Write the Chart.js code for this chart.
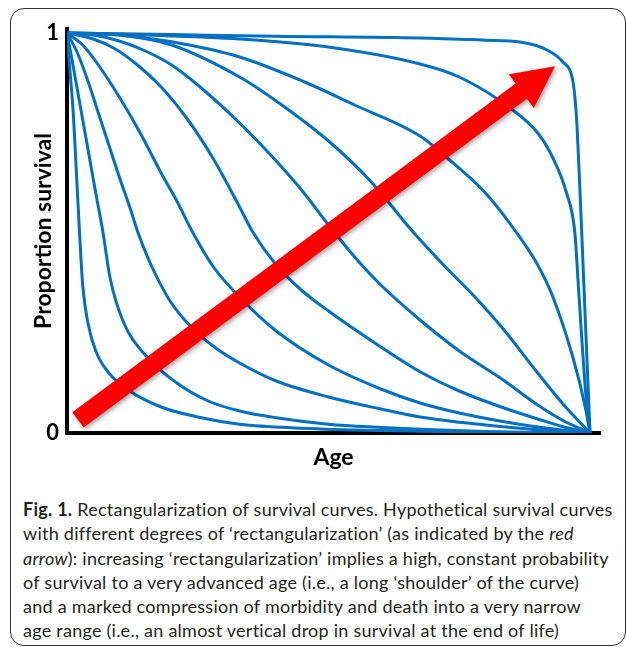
<!DOCTYPE html>
<html>
<head>
<meta charset="utf-8">
<script src="https://cdn.jsdelivr.net/npm/chart.js@4.4.1/dist/chart.umd.min.js"></script>
<style>
  body { margin: 0; background: #fff; }
  #frame { position: absolute; left: 10px; top: 8px; width: 614px; height: 636px;
           border: 1.5px solid #333; border-radius: 14px; }
  #wrap { position: absolute; left: 0; top: 0; width: 627px; height: 480px; }
  #caption { position: absolute; left: 23px; top: 497px; font-family: Lato, sans-serif;
             font-size: 18px; letter-spacing: 0.25px; line-height: 24.3px; color: #231f20; white-space: nowrap; }
</style>
</head>
<body>
<div id="frame"></div>
<div id="wrap"><canvas id="chart" width="627" height="480"></canvas></div>
<div id="caption">
  <div><b>Fig. 1.</b> Rectangularization of survival curves. Hypothetical survival curves</div>
  <div>with different degrees of ‘rectangularization’ (as indicated by the <i>red</i></div>
  <div><i>arrow</i>): increasing ‘rectangularization’ implies a high, constant probability</div>
  <div>of survival to a very advanced age (i.e., a long ‘shoulder’ of the curve)</div>
  <div>and a marked compression of morbidity and death into a very narrow</div>
  <div>age range (i.e., an almost vertical drop in survival at the end of life)</div>
</div>
<script>
// survival curves, [age %, proportion surviving], innermost to outermost
const curve1 = [[0,1],[0.6,0.9],[1.2,0.8],[1.8,0.65],[2.4,0.5],[3,0.37],[4,0.275],[5.5,0.205],[8,0.15],[12,0.105],[18,0.065],[25,0.04],[33,0.022],[45,0.012],[60,0.006],[80,0.002],[100,0]];
const curve2 = [[0,1],[1,0.93],[2.5,0.82],[4,0.71],[5.5,0.6],[6.9,0.5],[8.2,0.39],[10.7,0.28],[15.3,0.19],[21,0.125],[27,0.08],[33,0.055],[40,0.038],[50,0.022],[60,0.014],[70,0.008],[80,0.004],[90,0.0015],[100,0]];
const curve3 = [[0,1],[2,0.95],[4,0.88],[6,0.8],[8,0.72],[10,0.64],[12,0.565],[13.6,0.5],[15.9,0.425],[19.7,0.33],[24.1,0.26],[28.7,0.21],[33,0.175],[40,0.13],[50,0.09],[60,0.06],[67.5,0.04],[80,0.02],[90,0.008],[100,0]];
const curve4 = [[0,1],[3,0.97],[6,0.92],[10,0.84],[14,0.75],[18,0.65],[21,0.58],[24.1,0.5],[28,0.415],[33,0.34],[40,0.255],[50,0.17],[60,0.11],[67.5,0.075],[75,0.05],[85,0.025],[93,0.01],[100,0]];
const curve5 = [[0,1],[5,0.985],[9,0.962],[13,0.925],[18,0.865],[23,0.785],[28,0.685],[33,0.565],[35.4,0.505],[40,0.42],[45,0.355],[50,0.305],[60,0.215],[67.5,0.153],[75,0.105],[83,0.065],[90,0.035],[95,0.015],[100,0]];
const curve6 = [[0,1],[5,0.995],[10,0.98],[15,0.955],[20,0.92],[25,0.87],[33,0.775],[40,0.68],[45,0.605],[50,0.52],[55,0.44],[60,0.37],[67.5,0.2825],[75,0.205],[83.4,0.1325],[90,0.07],[95,0.03],[100,0]];
const curve7 = [[0,1],[10,0.995],[20,0.97],[33,0.89],[40,0.83],[50,0.73],[58,0.63],[66,0.505],[72,0.42],[78,0.34],[83.4,0.26],[90,0.15],[95,0.07],[100,0]];
const curve8 = [[0,1],[10,0.995],[20,0.978],[33,0.94],[45,0.88],[55,0.82],[67.5,0.7425],[72.7,0.6875],[80,0.6],[86,0.5],[90,0.42],[92.9,0.34],[96.7,0.19],[99,0.07],[100,0]];
const curve9 = [[0,1],[15,0.995],[33,0.985],[50,0.965],[67.5,0.9225],[75,0.89],[84.7,0.8125],[90,0.75],[92.9,0.6875],[95.5,0.6],[97.1,0.5],[97.8,0.36],[98.5,0.22],[99.2,0.095],[100,0]];
const curve10 = [[0,1],[20,0.996],[40,0.992],[67.5,0.9875],[80,0.982],[86.6,0.9775],[91.8,0.9575],[94.8,0.9275],[96.6,0.8875],[97.1,0.84],[97.5,0.77],[98.25,0.55],[99.1,0.28],[100,0]];

const yTickValues = [0, 1];
const yTickLabels = ['0', '1'];

// red arrow, tail and tip in data units
const arrowTail = [2.1, 0.033];
const arrowTip = [93.3, 0.917];

const curves = [curve1, curve2, curve3, curve4, curve5, curve6, curve7, curve8, curve9, curve10];

const titleFont = { family: 'Lato', weight: 'bold', size: 23 };
const tickFont = { family: 'Lato', weight: 'bold', size: 22 };

const arrowPlugin = {
  id: 'redArrow',
  afterDatasetsDraw(chart) {
    const { ctx, scales: { x, y } } = chart;
    const x0 = x.getPixelForValue(arrowTail[0]), y0 = y.getPixelForValue(arrowTail[1]);
    const x1 = x.getPixelForValue(arrowTip[0]), y1 = y.getPixelForValue(arrowTip[1]);
    const len = Math.hypot(x1 - x0, y1 - y0);
    const sw = 9.5, hw = 21, hl = 42;
    ctx.save();
    ctx.translate(x0, y0);
    ctx.rotate(Math.atan2(y1 - y0, x1 - x0));
    ctx.beginPath();
    ctx.moveTo(0, -sw);
    ctx.lineTo(len - hl, -sw);
    ctx.lineTo(len - hl, -hw);
    ctx.lineTo(len, 0);
    ctx.lineTo(len - hl, hw);
    ctx.lineTo(len - hl, sw);
    ctx.lineTo(0, sw);
    ctx.closePath();
    ctx.shadowColor = 'rgba(0,0,0,0.35)';
    ctx.shadowBlur = 4;
    ctx.shadowOffsetX = 2;
    ctx.shadowOffsetY = 2;
    ctx.fillStyle = '#ff0000';
    ctx.fill();
    ctx.restore();
  }
};

new Chart(document.getElementById('chart'), {
  type: 'line',
  data: {
    datasets: curves.map((c, i) => ({
      label: 'curve ' + (i + 1),
      data: c.map(p => ({ x: p[0], y: p[1] })),
      borderColor: '#0070c0',
      borderWidth: 3,
      pointRadius: 0,
      cubicInterpolationMode: 'monotone',
      fill: false
    }))
  },
  options: {
    responsive: false,
    animation: false,
    devicePixelRatio: 1,
    layout: { padding: { top: 29, right: 27, left: 0, bottom: 0 } },
    plugins: { legend: { display: false }, tooltip: { enabled: false } },
    scales: {
      x: {
        type: 'linear', min: 0, max: 101.9, z: 1,
        afterFit: s => { s.height = 47; },
        grid: { display: false, drawTicks: false },
        border: { color: '#000', width: 4 },
        ticks: { display: false },
        title: { display: true, text: 'Age', color: '#000', font: titleFont, padding: { top: 0, bottom: 9 } }
      },
      y: {
        min: 0, max: 1.01, z: 1,
        afterFit: s => { s.width = 67; },
        afterBuildTicks: s => { s.ticks = yTickValues.map(v => ({ value: v })); },
        grid: { display: false, drawTicks: false },
        border: { color: '#000', width: 4 },
        ticks: {
          padding: 8, color: '#000', font: tickFont,
          callback: (v) => yTickLabels[yTickValues.indexOf(v)]
        },
        title: { display: true, text: 'Proportion survival', color: '#000', font: titleFont, padding: { top: 30, bottom: 0 } }
      }
    }
  },
  plugins: [arrowPlugin]
});
</script>
</body>
</html>
